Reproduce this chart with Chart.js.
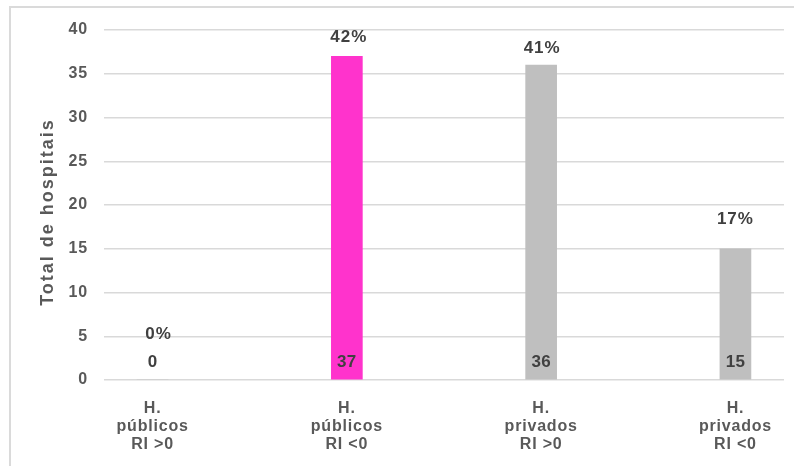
<!DOCTYPE html>
<html>
<head>
<meta charset="utf-8">
<script src="https://cdn.jsdelivr.net/npm/chart.js@4.4.1/dist/chart.umd.min.js"></script>
<style>
  html, body { margin: 0; padding: 0; background: #ffffff; }
  #frame {
    position: absolute; left: 9px; top: 6px; width: 800px; height: 470px;
    border-top: 2px solid #dadada; border-left: 2px solid #dadada;
  }
  #wrap { position: absolute; left: 0; top: 0; width: 794px; height: 466px; }
</style>
</head>
<body>
<div id="frame"></div>
<div id="wrap"><canvas id="chart" width="794" height="466"></canvas></div>
<script>
// Hospital groups (multi-line axis labels)
const categories = [
  ['H.', 'públicos', 'RI >0'],
  ['H.', 'públicos', 'RI <0'],
  ['H.', 'privados', 'RI >0'],
  ['H.', 'privados', 'RI <0']
];
// Number of hospitals per group
const hospitalCounts = [0, 37, 36, 15];
// Share of all hospitals, in percent
const sharePercent = [0, 42, 41, 17];
// Value axis ticks
const yTickValues = [0, 5, 10, 15, 20, 25, 30, 35, 40];
const yAxisTitle = 'Total de hospitais';

const FONT = '"Liberation Sans", Arial, Helvetica, sans-serif';
const barColors = ['#BFBFBF', '#FF33CC', '#BFBFBF', '#BFBFBF'];

// Draws the count inside each bar, the share above it, and the rotated axis title
const barLabels = {
  id: 'barLabels',
  beforeUpdate(chart) { chart.ctx.letterSpacing = '0.8px'; },
  beforeDraw(chart) { chart.ctx.letterSpacing = '0.8px'; },
  afterDraw(chart, args, opts) {
    const ctx = chart.ctx;
    const yScale = chart.scales.y;
    const meta = chart.getDatasetMeta(0);
    ctx.save();
    ctx.textAlign = 'center';
    ctx.textBaseline = 'middle';
    ctx.fillStyle = '#404040';
    meta.data.forEach((bar, i) => {
      ctx.font = 'bold 17px ' + FONT;
      ctx.letterSpacing = '0.3px';
      ctx.fillText(String(hospitalCounts[i]), bar.x, yScale.getPixelForValue(0) - opts.countLift);
      ctx.font = 'bold 17px ' + FONT;
      ctx.letterSpacing = '1px';
      ctx.fillText(sharePercent[i] + '%', bar.x + opts.shareShiftX[i], bar.y - opts.shareLift[i]);
    });
    ctx.translate(opts.titleX, opts.titleY);
    ctx.rotate(-Math.PI / 2);
    ctx.font = 'bold 18px ' + FONT;
    ctx.letterSpacing = '2px';
    ctx.fillStyle = '#595959';
    ctx.fillText(yAxisTitle, 0, 0);
    ctx.restore();
  }
};

new Chart(document.getElementById('chart').getContext('2d'), {
  type: 'bar',
  data: {
    datasets: [{
      data: hospitalCounts.map((v, i) => ({ x: i, y: v })),
      backgroundColor: barColors,
      borderWidth: 0,
      barThickness: 31
    }]
  },
  options: {
    responsive: false,
    animation: false,
    devicePixelRatio: 1,
    layout: { padding: { left: 0, right: 10, top: 30, bottom: 0 } },
    plugins: {
      legend: { display: false },
      tooltip: { enabled: false },
      barLabels: {
        countLift: 18,
        shareLift: [46, 19, 17, 29],
        shareShiftX: [6, 2, 1, 0],
        titleX: 48,
        titleY: 212
      }
    },
    scales: {
      x: {
        type: 'linear',
        offset: false,
        min: -0.25,
        max: 3.25,
        grid: { display: false, offset: false },
        border: { display: false },
        afterBuildTicks: (scale) => { scale.ticks = categories.map((c, i) => ({ value: i })); },
        ticks: {
          autoSkip: false,
          maxRotation: 0,
          padding: 11,
          color: '#595959',
          font: { family: FONT, size: 16, weight: 'bold', lineHeight: 1.15 },
          callback: (v) => categories[v]
        },
        afterFit: (scale) => { scale.height = 86; }
      },
      y: {
        min: 0,
        max: 40,
        afterBuildTicks: (scale) => { scale.ticks = yTickValues.map(v => ({ value: v })); },
        grid: { color: '#d9d9d9', lineWidth: 1.5, drawTicks: false },
        border: { display: false },
        ticks: {
          padding: 16,
          color: '#595959',
          font: { family: FONT, size: 16, weight: 'bold' }
        },
        afterFit: (scale) => { scale.width = 104; }
      }
    }
  },
  plugins: [barLabels]
});
</script>
</body>
</html>
